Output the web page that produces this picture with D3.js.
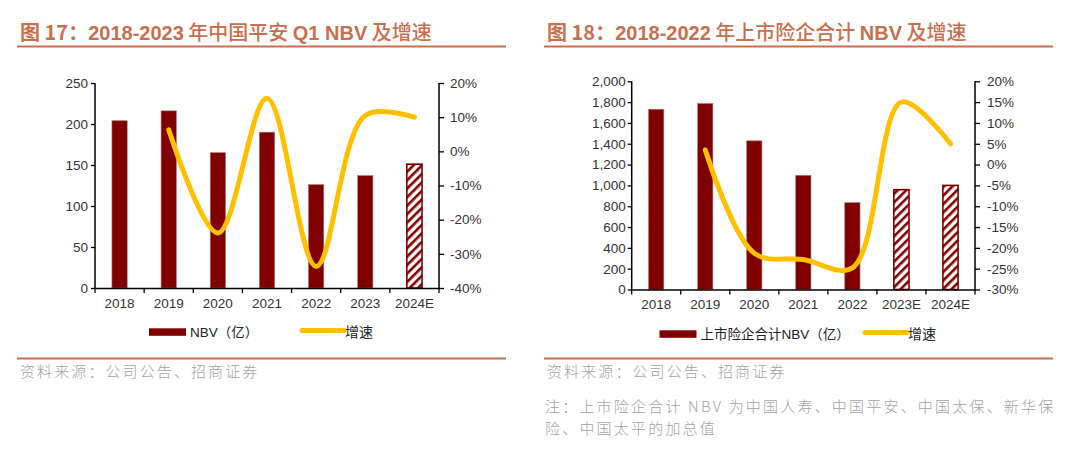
<!DOCTYPE html>
<html><head><meta charset="utf-8">
<script src="https://cdn.jsdelivr.net/npm/d3@7/dist/d3.min.js"></script>
<style>
body{margin:0;background:#fff;}
svg{display:block;}
</style></head>
<body><svg id="c" width="1080" height="456"></svg>
<script>
// ---------- data ----------
const cats1 = ['2018','2019','2020','2021','2022','2023','2024E'];
const nbv1 = [204, 216, 165, 190, 126, 137, 151];
const growth1 = [null, 6.3, -23.9, 15.5, -33.7, 10.5, 10.0];
const leftTicks1 = [0, 50, 100, 150, 200, 250];
const rightTicks1 = [-40, -30, -20, -10, 0, 10, 20];

const cats2 = ['2018','2019','2020','2021','2022','2023E','2024E'];
const nbv2 = [1731, 1786, 1428, 1096, 834, 959, 1000];
const growth2 = [null, 3.5, -21.3, -22.8, -24.8, 15.0, 5.0];
const leftTicks2 = [0,200,400,600,800,1000,1200,1400,1600,1800,2000];
const rightTicks2 = [-30,-25,-20,-15,-10,-5,0,5,10,15,20];

const title1 = ['图 17：', '2018-2023', ' 年中国平安 ', 'Q1 NBV', ' 及增速'];
const title2 = ['图 18：', '2018-2022', ' 年上市险企合计 ', 'NBV', ' 及增速'];
const legend1 = ['NBV（亿）', '增速'];
const legend2 = ['上市险企合计NBV（亿）', '增速'];
const sourceText = '资料来源：公司公告、招商证券';
const noteLines = ['注：上市险企合计 NBV 为中国人寿、中国平安、中国太保、新华保', '险、中国太平的加总值'];

// ---------- style ----------
const BAR = '#800000', LINE = '#FFC000', TITLE = '#C8704E', GRAY = '#a3a3a3', TXT = '#333';
const LATIN = '"Liberation Sans", Arial, "Noto Sans CJK SC", sans-serif';
const CJK = '"Noto Sans CJK SC", sans-serif';

const svg = d3.select('#c');
svg.append('rect').attr('width',1080).attr('height',456).attr('fill','#fff');

const defs = svg.append('defs');
const pat = defs.append('pattern').attr('id','hatch').attr('patternUnits','userSpaceOnUse')
  .attr('width',6).attr('height',6).attr('patternTransform','rotate(45)');
pat.append('rect').attr('width',6).attr('height',6).attr('fill','#fff');
pat.append('rect').attr('x',0).attr('width',2.6).attr('height',6).attr('fill',BAR);

function drawTitle(x0, x1, parts){
  const t = svg.append('text').attr('x', x0 + 3).attr('y', 40).attr('fill', TITLE).attr('font-size', 20);
  parts.forEach((p,i)=>{
    const latin = /^[\sA-Za-z0-9\-]+$/.test(p.trim()) && p.trim().length>0;
    t.append('tspan').text(p)
      .attr('font-family', latin ? LATIN : CJK)
      .attr('font-weight', latin ? 'bold' : (i===0 ? 'bold' : '500'));
  });
  svg.append('line').attr('x1',x0).attr('x2',x1).attr('y1',46.5).attr('y2',46.5)
    .attr('stroke',TITLE).attr('stroke-width',2.2);
}

function drawChart(o){
  const g = svg.append('g');
  const x = d3.scaleBand().domain(o.cats).range([o.x0, o.x1]).padding(0);
  const y = d3.scaleLinear().domain([0, d3.max(o.lt)]).range([o.yb, o.yt]);
  const y2 = d3.scaleLinear().domain([d3.min(o.rt), d3.max(o.rt)]).range([o.yb, o.yt]);
  const bw = x.bandwidth()*0.31;

  // bars
  g.selectAll('rect.bar').data(o.cats.map((c,i)=>({c, v:o.nbv[i], est:/E$/.test(c)})))
    .join('rect')
    .attr('x', d=>x(d.c)+x.bandwidth()/2-bw/2)
    .attr('y', d=>y(d.v))
    .attr('width', bw)
    .attr('height', d=>y(0)-y(d.v))
    .attr('fill', d=>d.est ? 'url(#hatch)' : BAR)
    .attr('stroke', d=>d.est ? BAR : '#b06a6a')
    .attr('stroke-width', d=>d.est ? 1.6 : 0.6);

  // axes
  const la = d3.axisLeft(y).tickValues(o.lt).tickSize(4).tickPadding(o.lpad).tickFormat(o.lfmt);
  const ga = g.append('g').attr('transform',`translate(${o.x0},0)`).call(la);
  const ra = d3.axisRight(y2).tickValues(o.rt).tickSize(5).tickPadding(o.rpad).tickFormat(d=>d+'%');
  const gr = g.append('g').attr('transform',`translate(${o.x1},0)`).call(ra);
  const ba = d3.axisBottom(x).tickSize(0).tickPadding(10);
  const gb = g.append('g').attr('transform',`translate(0,${o.yb})`).call(ba);
  // boundary ticks
  const bounds = o.cats.map(c=>x(c)).concat([o.x1]);
  gb.selectAll('line.bt').data(bounds).join('line').attr('class','bt')
    .attr('x1',d=>d).attr('x2',d=>d).attr('y1',0).attr('y2',5).attr('stroke','#000').attr('stroke-width',1.3);
  [ga,gr,gb].forEach(a=>{
    a.select('.domain').attr('stroke','#000').attr('stroke-width',1.5);
    a.selectAll('.tick line').attr('stroke','#000').attr('stroke-width',1.3);
    a.selectAll('text').attr('font-family',LATIN).attr('font-size',13.5).attr('fill',TXT);
  });
  ga.select('.domain').attr('d',`M-0,${o.yt}V${o.yb}`);
  gr.select('.domain').attr('d',`M0,${o.yt}V${o.yb}`);

  // growth line
  const pts = o.cats.map((c,i)=>({c, v:o.growth[i]})).filter(d=>d.v!==null);
  const line = d3.line().x(d=>x(d.c)+x.bandwidth()/2).y(d=>y2(d.v)).curve(d3.curveCatmullRom.alpha(0.5));
  g.append('path').datum(pts).attr('d',line).attr('fill','none').attr('stroke',LINE)
    .attr('stroke-width',5).attr('stroke-linecap','round').attr('stroke-linejoin','round');

  // legend
  const lg = g.append('g');
  lg.append('rect').attr('x',o.lx1).attr('y',o.ly-3.7).attr('width',37).attr('height',7.5).attr('fill',BAR);
  lg.append('text').attr('x',o.lx1+41).attr('y',o.ly+4.5).text(o.legend[0])
    .attr('font-family',LATIN).attr('font-size',13.5).attr('fill','#222');
  lg.append('line').attr('x1',o.lx2).attr('x2',o.lx2+42).attr('y1',o.ly-1.5).attr('y2',o.ly-1.5)
    .attr('stroke',LINE).attr('stroke-width',5).attr('stroke-linecap','round');
  lg.append('text').attr('x',o.lx2+43).attr('y',o.ly+5).text(o.legend[1])
    .attr('font-family',CJK).attr('font-size',14).attr('fill','#222');
}

drawTitle(17, 506, title1);
drawTitle(544, 1053, title2);

drawChart({cats:cats1, nbv:nbv1, growth:growth1, lt:leftTicks1, rt:rightTicks1,
  x0:95, x1:439, yt:83, yb:288, lpad:3, rpad:6, lfmt:d3.format('d'),
  legend:legend1, lx1:149, lx2:302, ly:332});
drawChart({cats:cats2, nbv:nbv2, growth:growth2, lt:leftTicks2, rt:rightTicks2,
  x0:631.7, x1:975, yt:81.3, yb:289.5, lpad:2, rpad:7, lfmt:d3.format(','),
  legend:legend2, lx1:659.5, lx2:865, ly:334});

// separators and source
[[17,506],[544,1053]].forEach(([a,b])=>{
  svg.append('line').attr('x1',a).attr('x2',b).attr('y1',358.5).attr('y2',358.5)
    .attr('stroke',TITLE).attr('stroke-width',2);
  svg.append('text').attr('x',a+3).attr('y',376.5).text(sourceText)
    .attr('font-family',CJK).attr('font-size',15).attr('fill',GRAY).attr('font-weight',300)
    .attr('letter-spacing',2.1);
});
noteLines.forEach((t,i)=>{
  svg.append('text').attr('x',545).attr('y',412+i*21.5).text(t)
    .attr('font-family',CJK).attr('font-size',15).attr('fill',GRAY).attr('font-weight',300)
    .attr('letter-spacing',2.2);
});
</script></body></html>
